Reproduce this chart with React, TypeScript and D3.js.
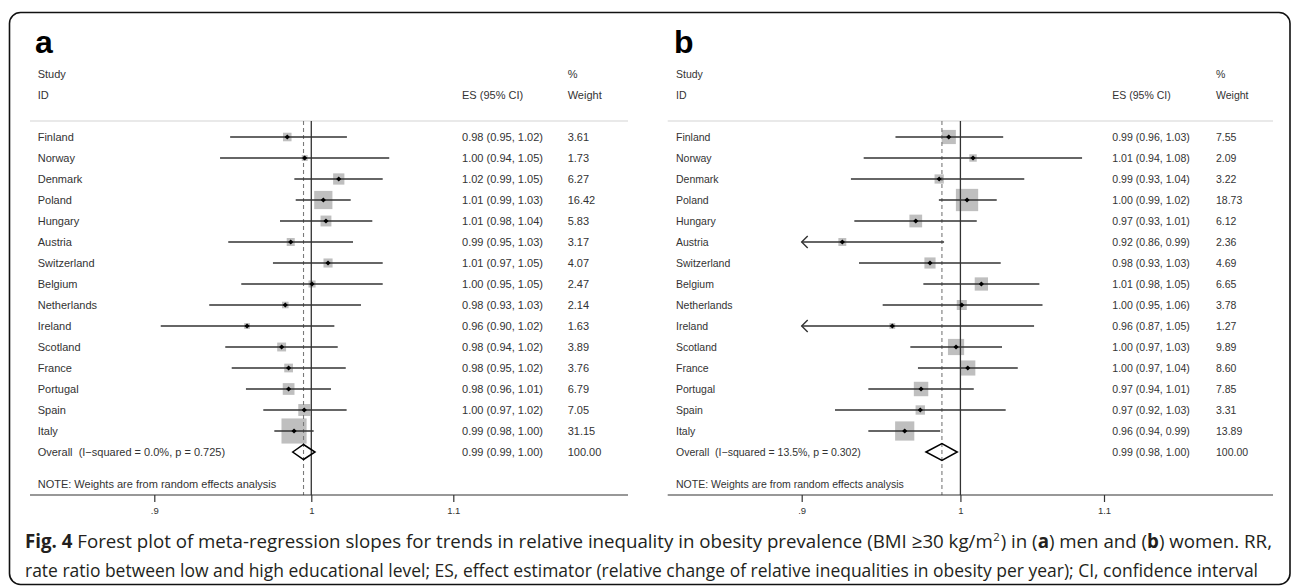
import React, { useEffect, useRef } from "react";
import * as d3 from "d3";

const studies = ["Finland", "Norway", "Denmark", "Poland", "Hungary", "Austria", "Switzerland", "Belgium", "Netherlands", "Ireland", "Scotland", "France", "Portugal", "Spain", "Italy"];

// Panel a: men
const menES = [0.984, 0.9956, 1.0186, 1.0081, 1.0099, 0.9863, 1.0113, 1.0005, 0.9827, 0.9578, 0.9803, 0.9849, 0.9849, 0.9953, 0.9885];
const menLo = [0.947, 0.9406, 0.9887, 0.9896, 0.9792, 0.9458, 0.9746, 0.9541, 0.9338, 0.9039, 0.9439, 0.948, 0.9571, 0.9683, 0.9755];
const menHi = [1.0242, 1.0537, 1.0491, 1.0268, 1.0418, 1.0284, 1.0491, 1.0491, 1.0339, 1.0156, 1.0179, 1.0234, 1.0133, 1.024, 1.0016];
const menWeight = [3.61, 1.73, 6.27, 16.42, 5.83, 3.17, 4.07, 2.47, 2.14, 1.63, 3.89, 3.76, 6.79, 7.05, 31.15];
const menOverall = [0.9948, 0.9876, 1.0025]; // es, lo, hi
const menHet = ["0.0%", "0.725"];

// Panel b: women
const womenES = [0.9923, 1.0084, 0.986, 1.0044, 0.9708, 0.9246, 0.98, 1.014, 1.0009, 0.9558, 0.9971, 1.0049, 0.9742, 0.9737, 0.9637];
const womenLo = [0.9578, 0.9378, 0.9299, 0.9858, 0.932, 0.86, 0.9349, 0.9757, 0.9497, 0.87, 0.9673, 0.9722, 0.9407, 0.9201, 0.9407];
const womenHi = [1.0288, 1.0841, 1.0433, 1.0244, 1.0109, 0.9892, 1.0271, 1.0538, 1.056, 1.0501, 1.028, 1.0388, 1.0089, 1.0305, 0.9867];
const womenWeight = [7.55, 2.09, 3.22, 18.73, 6.12, 2.36, 4.69, 6.65, 3.78, 1.27, 9.89, 8.6, 7.85, 3.31, 13.89];
const womenOverall = [0.9878, 0.9774, 0.9979];
const womenHet = ["13.5%", "0.302"];

const tickValues = [0.9, 1, 1.1];
const tickLabels = [".9", "1", "1.1"];

const FONT = "'Liberation Sans', Arial, Helvetica, sans-serif";
const TXT = "#333";

type PanelCfg = {
  label: string;
  labelX: number;
  left: number;
  right: number;
  studyX: number;
  esX: number;
  wX: number;
  x09: number;
  x11: number;
  boxK: number;
  diamondH: number;
  fontSize: number;
  esLen: number;
  es: number[];
  lo: number[];
  hi: number[];
  w: number[];
  overall: number[];
  het: string[];
};

const rowY = (i: number) => 137 + 21 * i;
const SEP_Y = 121;
const AXIS_Y = 495;

function Panel({ c }: { c: PanelCfg }) {
  const x = d3.scaleLog().domain([0.9, 1.1]).range([c.x09, c.x11]);
  const axisRef = useRef<SVGGElement>(null);
  useEffect(() => {
    if (!axisRef.current) return;
    const g = d3.select(axisRef.current);
    g.selectAll("*").remove();
    g.call(
      d3
        .axisBottom(x)
        .tickValues(tickValues)
        .tickFormat((_d: any, i: number) => tickLabels[i])
        .tickSize(7)
        .tickSizeOuter(0)
        .tickPadding(5)
    );
    g.select(".domain").remove();
    g.selectAll(".tick line").attr("stroke", TXT).attr("stroke-width", 1.2);
    g.selectAll(".tick text").attr("font-family", FONT).attr("font-size", 9.5).attr("fill", TXT);
  }, []);

  const [oES, oLo, oHi] = c.overall;
  const xmin = 0.9;
  const xmax = 1.1;
  const nRows = studies.length;
  const overallY = rowY(nRows);
  const noteY = rowY(nRows + 1.5);
  const fs = c.fontSize;

  return (
    <g>
      <text x={c.labelX} y={53} fontFamily={FONT} fontWeight="bold" fontSize={32} fill="#000">
        {c.label}
      </text>
      <text x={c.studyX} y={rowY(-3) + 4} fontFamily={FONT} fontSize={fs} fill={TXT}>Study</text>
      <text x={c.studyX} y={rowY(-2) + 4} fontFamily={FONT} fontSize={fs} fill={TXT}>ID</text>
      <text x={c.esX} y={rowY(-2) + 4} fontFamily={FONT} fontSize={fs} fill={TXT}>ES (95% CI)</text>
      <text x={c.wX} y={rowY(-3) + 4} fontFamily={FONT} fontSize={fs} fill={TXT}>%</text>
      <text x={c.wX} y={rowY(-2) + 4} fontFamily={FONT} fontSize={fs} fill={TXT}>Weight</text>
      <line x1={c.left} x2={c.right} y1={SEP_Y} y2={SEP_Y} stroke="#d4d4d4" strokeWidth={1.2} />

      {/* boxes */}
      {studies.map((s, i) => {
        const side = c.boxK * Math.sqrt(c.w[i]);
        return (
          <rect key={"b" + s} x={x(c.es[i]) - side / 2} y={rowY(i) - side / 2} width={side} height={side} fill="#bfbfbf" />
        );
      })}

      {/* reference lines */}
      <line x1={x(1)} x2={x(1)} y1={SEP_Y} y2={AXIS_Y} stroke={TXT} strokeWidth={1.3} />
      <line x1={x(oES)} x2={x(oES)} y1={SEP_Y} y2={AXIS_Y} stroke="#7a7a7a" strokeWidth={1.1} strokeDasharray="4,3" />

      {/* CI lines, arrows, points */}
      {studies.map((s, i) => {
        const y = rowY(i);
        const loOff = c.lo[i] < xmin;
        const hiOff = c.hi[i] > xmax;
        const x1 = x(loOff ? xmin : c.lo[i]);
        const x2 = x(hiOff ? xmax : c.hi[i]);
        const px = x(c.es[i]);
        return (
          <g key={"ci" + s}>
            <line x1={x1} x2={x2} y1={y} y2={y} stroke={TXT} strokeWidth={1.4} />
            {loOff && (
              <path d={`M${x1 + 6},${y - 6}L${x1},${y}L${x1 + 6},${y + 6}`} fill="none" stroke={TXT} strokeWidth={1.4} />
            )}
            {hiOff && (
              <path d={`M${x2 - 6},${y - 6}L${x2},${y}L${x2 - 6},${y + 6}`} fill="none" stroke={TXT} strokeWidth={1.4} />
            )}
            <path d={`M${px - 2.6},${y}L${px},${y - 2.6}L${px + 2.6},${y}L${px},${y + 2.6}Z`} fill="#000" />
          </g>
        );
      })}

      {/* overall diamond */}
      <path
        d={`M${x(oLo)},${overallY}L${x(oES)},${overallY - c.diamondH}L${x(oHi)},${overallY}L${x(oES)},${overallY + c.diamondH}Z`}
        fill="none"
        stroke="#000"
        strokeWidth={1.5}
      />

      {/* study labels and values */}
      {studies.map((s, i) => (
        <g key={"t" + s}>
          <text x={c.studyX} y={rowY(i) + 4} fontFamily={FONT} fontSize={fs} fill={TXT}>{s}</text>
          <text x={c.esX} y={rowY(i) + 4} fontFamily={FONT} fontSize={fs} fill={TXT} textLength={c.esLen} lengthAdjust="spacingAndGlyphs">
            {`${c.es[i].toFixed(2)} (${c.lo[i].toFixed(2)}, ${c.hi[i].toFixed(2)})`}
          </text>
          <text x={c.wX} y={rowY(i) + 4} fontFamily={FONT} fontSize={fs} fill={TXT}>{c.w[i].toFixed(2)}</text>
        </g>
      ))}
      <text x={c.studyX} y={overallY + 4} fontFamily={FONT} fontSize={fs} fill={TXT} style={{ whiteSpace: "pre" }}>
        {`Overall  (I\u2212squared = ${c.het[0]}, p = ${c.het[1]})`}
      </text>
      <text x={c.esX} y={overallY + 4} fontFamily={FONT} fontSize={fs} fill={TXT} textLength={c.esLen} lengthAdjust="spacingAndGlyphs">
        {`${oES.toFixed(2)} (${oLo.toFixed(2)}, ${oHi.toFixed(2)})`}
      </text>
      <text x={c.wX} y={overallY + 4} fontFamily={FONT} fontSize={fs} fill={TXT}>100.00</text>
      <text x={c.studyX} y={noteY + 4} fontFamily={FONT} fontSize={fs} fill={TXT}>
        NOTE: Weights are from random effects analysis
      </text>

      {/* axis */}
      <line x1={c.left} x2={c.right} y1={AXIS_Y} y2={AXIS_Y} stroke={TXT} strokeWidth={1.2} />
      <g ref={axisRef} transform={`translate(0,${AXIS_Y})`} />
    </g>
  );
}

const panelA: PanelCfg = {
  label: "a",
  labelX: 35,
  left: 30,
  right: 628,
  studyX: 37.7,
  esX: 462,
  wX: 567.7,
  x09: 154.3,
  x11: 453.3,
  boxK: 4.5,
  diamondH: 7.5,
  fontSize: 11,
  esLen: 81,
  es: menES,
  lo: menLo,
  hi: menHi,
  w: menWeight,
  overall: menOverall,
  het: menHet,
};

const panelB: PanelCfg = {
  label: "b",
  labelX: 674,
  left: 667.7,
  right: 1273,
  studyX: 676,
  esX: 1112.3,
  wX: 1216,
  x09: 801.7,
  x11: 1104,
  boxK: 5.15,
  diamondH: 8.5,
  fontSize: 10.5,
  esLen: 77.5,
  es: womenES,
  lo: womenLo,
  hi: womenHi,
  w: womenWeight,
  overall: womenOverall,
  het: womenHet,
};

const CAP_FONT = "'Open Sans', 'Noto Sans', sans-serif";

export default function App() {
  return (
    <svg
      width={1292}
      height={586}
      viewBox="0 0 1292 586"
      style={{ position: "absolute", left: 0, top: 0, background: "#fff" }}
    >
      <rect x={0} y={0} width={1292} height={586} fill="#fff" />
      <rect x={9.5} y={12.5} width={1280.5} height={572} rx={11} ry={11} fill="none" stroke="#111" strokeWidth={1.6} />
      <Panel c={panelA} />
      <Panel c={panelB} />
      <text x={25} y={548} fontFamily={CAP_FONT} fontSize={19} fill="#231f20" textLength={1247} lengthAdjust="spacingAndGlyphs">
        <tspan fontWeight="bold">Fig. 4</tspan>
        <tspan> Forest plot of meta-regression slopes for trends in relative inequality in obesity prevalence (BMI ≥30 kg/m</tspan>
        <tspan dx={0.5} dy={-7} fontSize={11.5}>2</tspan>
        <tspan dx={1} dy={7}>) in (</tspan>
        <tspan fontWeight="bold">a</tspan>
        <tspan>) men and (</tspan>
        <tspan fontWeight="bold">b</tspan>
        <tspan>) women. RR,</tspan>
      </text>
      <text x={25} y={577} fontFamily={CAP_FONT} fontSize={19} fill="#231f20" textLength={1233} lengthAdjust="spacingAndGlyphs">
        rate ratio between low and high educational level; ES, effect estimator (relative change of relative inequalities in obesity per year); CI, confidence interval
      </text>
    </svg>
  );
}
